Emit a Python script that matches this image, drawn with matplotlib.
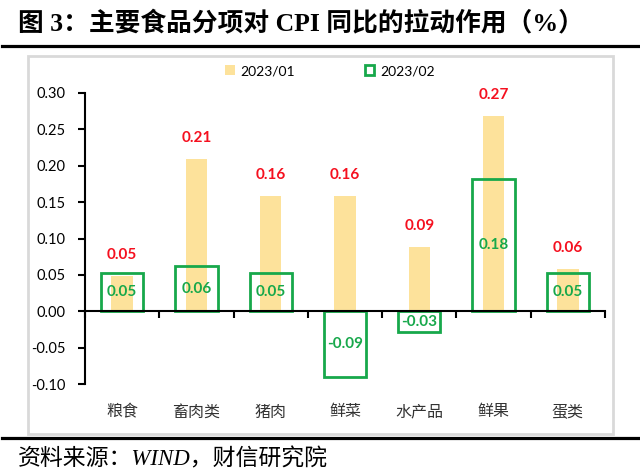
import matplotlib
matplotlib.use("Agg")
import matplotlib.pyplot as plt
from matplotlib.lines import Line2D
from matplotlib.patches import Rectangle, Patch
import numpy as np

# data
categories = ["粮食", "畜肉类", "猪肉", "鲜菜", "水产品", "鲜果", "蛋类"]
jan = [0.049, 0.209, 0.159, 0.159, 0.089, 0.269, 0.058]
feb = [0.052, 0.062, 0.052, -0.091, -0.029, 0.182, 0.052]
series_names = ["2023/01", "2023/02"]
yticks = [-0.10, -0.05, 0.00, 0.05, 0.10, 0.15, 0.20, 0.25, 0.30]

YELLOW = "#FDE29B"
GREEN = "#17A84B"
RED = "#F5101F"
NUM_FONT = ["Lato", "DejaVu Sans"]
CJK = ["Noto Sans CJK SC", "DejaVu Sans"]

plt.rcParams["font.family"] = CJK

fig = plt.figure(figsize=(6.4, 4.76), dpi=100)
ax = fig.add_axes([85 / 640, 1 - 384 / 476, 520 / 640, 291 / 476])

x = np.arange(len(categories))
ax.bar(x, jan, width=0.29, color=YELLOW, zorder=1)
ax.bar(x, feb, width=0.57, facecolor="none", edgecolor=GREEN, linewidth=2, zorder=2)

for xi, v in zip(x, jan):
    ax.annotate(f"{v:.2f}", (xi, v), xytext=(0, 15), textcoords="offset points",
                ha="center", va="center", color=RED, fontsize=11,
                fontweight="bold", family=NUM_FONT)
for xi, v in zip(x, feb):
    ax.text(xi, v / 2, f"{v:.2f}", ha="center", va="center", color=GREEN,
            fontsize=11, fontweight="bold", family=NUM_FONT, zorder=3)

ax.set_xlim(-0.5, len(categories) - 0.5)
ax.set_ylim(-0.10, 0.30)
ax.set_yticks(yticks)
ax.set_yticklabels([f"{t:.2f}" for t in yticks], family=NUM_FONT, fontsize=10.5)
ax.tick_params(axis="y", direction="out", length=5, width=1.5, pad=9, colors="black")

# zero line with boundary ticks
for s in ["top", "right"]:
    ax.spines[s].set_visible(False)
ax.spines["left"].set_linewidth(1.5)
ax.spines["bottom"].set_position(("data", 0))
ax.spines["bottom"].set_linewidth(1.5)
ax.set_xticks(np.arange(len(categories) + 1) - 0.5)
ax.set_xticklabels([])
ax.tick_params(axis="x", direction="out", length=5, width=1.5)

sec = ax.secondary_xaxis("bottom")
sec.set_xticks(x)
sec.set_xticklabels(categories, fontsize=11.5, color="#333333")
sec.tick_params(length=0, pad=14)
sec.spines["bottom"].set_visible(False)

handles = [Patch(facecolor=YELLOW, edgecolor="none"),
           Patch(facecolor="none", edgecolor=GREEN, linewidth=2)]
fig.legend(handles, series_names, loc="center", bbox_to_anchor=(330 / 640, 1 - 71 / 476),
           ncol=2, frameon=False, handlelength=0.7, handleheight=0.7, handletextpad=0.4,
           columnspacing=5, prop={"family": NUM_FONT, "size": 10})

# frame, rules, title, source
fig.add_artist(Rectangle((28 / 640, 1 - 434 / 476), 585 / 640, 378 / 476,
                         transform=fig.transFigure, fill=False, edgecolor="#D9D9D9", linewidth=2))
for yy in [46, 438]:
    fig.add_artist(Line2D([2 / 640, 638 / 640], [1 - yy / 476] * 2,
                          transform=fig.transFigure, color="black", linewidth=2.3))
fig.text(18 / 640, 1 - 23 / 476, "图 3：主要食品分项对 CPI 同比的拉动作用（%）",
         ha="left", va="center", fontsize=18.5, fontweight="bold",
         family=["Liberation Serif", "Noto Sans CJK SC"])
fig.text(18 / 640, 1 - 459 / 476, "资料来源：WIND，财信研究院", ha="left", va="center",
         fontsize=16.5, style="italic", family=["Liberation Serif", "Noto Sans CJK SC"])

fig.savefig("out.png", dpi=100)
